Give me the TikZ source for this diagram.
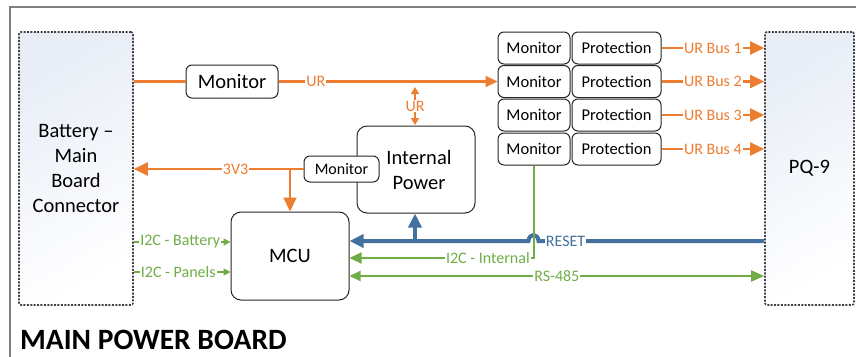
\documentclass[tikz,border=0pt]{standalone}
\usepackage{fontspec}
\setmainfont{Carlito}
\usetikzlibrary{arrows.meta}
\definecolor{orng}{HTML}{ED7D31}
\definecolor{grn}{HTML}{70AD47}
\definecolor{blu}{HTML}{41719C}
\definecolor{frm}{HTML}{808080}
\definecolor{conntop}{HTML}{E8EDF6}
\tikzset{
  rbox/.style={draw=black!85, line width=1pt, rounded corners=6pt, fill=white, inner sep=0pt},
  conbox/.style={draw=black!75, line width=1.6pt, dash pattern=on 2pt off 1.4pt, rounded corners=2pt,
     top color=conntop, bottom color=white, shading angle=30, inner sep=0pt, align=center,
     font=\fontsize{20.5}{25}\selectfont},
  lbl/.style={fill=white, inner sep=1pt, font=\fontsize{16}{18}\selectfont},
  olbl/.style={lbl, text=orng},
  glbl/.style={lbl, text=grn},
  blbl/.style={lbl, text=blu},
  oline/.style={draw=orng, line width=2.2pt},
  gline/.style={draw=grn, line width=2pt},
  bline/.style={draw=blu, line width=4pt},
  bigtip/.style={-{Triangle[length=14pt,width=13pt]}},
  midtip/.style={-{Triangle[length=12pt,width=11pt]}},
  smalltip/.style={-{Triangle[length=7pt,width=7pt]}},
  mfont/.style={font=\fontsize{20.5}{25}\selectfont},
  sfont/.style={font=\fontsize{16.5}{19}\selectfont},
}
\begin{document}
\begin{tikzpicture}[x=1pt,y=-1pt]
\useasboundingbox (0,0) rectangle (856,356);
\clip (0,0) rectangle (856,356);
% frame
\draw[frm, line width=1.6pt] (10,370) -- (10,7) -- (870,7);

% connectors
\node[conbox, minimum width=114pt, minimum height=273pt] (bat) at (76,168.5) {Battery --\\Main\\Board\\Connector};
\node[conbox, minimum width=89pt, minimum height=273pt] (pq) at (809.5,168.5) {PQ-9};

% top monitor
\node[rbox, mfont, minimum width=92pt, minimum height=33pt] (tm) at (232,81.5) {Monitor};

% monitor / protection stack
\foreach \i/\y in {1/48,2/81.5,3/115,4/149}{
  \node[rbox, sfont, minimum width=72pt, minimum height=32pt] (m\i) at (534,\y) {Monitor};
  \node[rbox, sfont, minimum width=89pt, minimum height=32pt] (p\i) at (616.5,\y) {Protection};
}

% internal power and its monitor
\node[rbox, mfont, align=center, minimum width=118pt, minimum height=87pt, rounded corners=10pt] (ip) at (416,169.5) {};
\node[mfont, align=center, anchor=center] (iptxt) at (419,169.5) {Internal\\Power};
\node[rbox, font=\fontsize{16}{18}\selectfont, minimum width=75pt, minimum height=26pt] (sm) at (341.5,169) {Monitor};

% MCU
\node[rbox, mfont, minimum width=118pt, minimum height=88pt, rounded corners=10pt] (mcu) at (290,256) {MCU};

% coordinates
\coordinate (urtop) at (415,87);
\coordinate (urbot) at (415,125);
\coordinate (vbranch) at (290,169);
\coordinate (bbranch) at (415,241);
\coordinate (gcorner) at (534,258);
\coordinate (hopR) at (538.5,241);
\coordinate (hopL) at (528.5,241);

% orange UR line
\draw[oline] (bat.east |- tm.west) -- (tm.west);
\draw[oline, midtip] (tm.east) -- node[olbl, pos=0.17]{UR} (m2.west);
\draw[oline, line width=1.6pt, {Triangle[length=7pt,width=8pt]}-{Triangle[length=7pt,width=8pt]}] (urtop) -- node[olbl]{UR} (urbot);

% UR buses
\foreach \i in {1,2,3,4}{
  \draw[oline, bigtip] (p\i.east) -- node[olbl, pos=0.5]{UR Bus \i} (pq.west |- p\i.east);
}

% 3V3
\draw[oline, bigtip] (sm.west) -- node[olbl, pos=0.4]{3V3} (bat.east |- sm.west);
\draw[oline, bigtip] (vbranch) -- (mcu.north -| vbranch);

% I2C battery / panels
\draw[gline, line width=1.6pt, smalltip] (bat.east |- 0,242) -- node[glbl, pos=0.48]{I2C - Battery} (mcu.west |- 0,242);
\draw[gline, line width=1.6pt, smalltip] (bat.east |- 0,272) -- node[glbl, pos=0.46]{I2C - Panels} (mcu.west |- 0,272);

% RESET
\draw[bline, {Triangle[length=14pt,width=13pt]}-] (mcu.east |- bbranch) -- (hopL) .. controls (529,233) and (538,233) .. (hopR) -- node[blbl, pos=0.12]{RESET} (pq.west |- bbranch);
\draw[bline, -{Triangle[length=14pt,width=13pt]}] (bbranch) -- (ip.south -| bbranch);

% I2C internal
\draw[gline, midtip] (m4.south) -- (gcorner) -- node[glbl, pos=0.25]{I2C - Internal} (mcu.east |- gcorner);

% RS-485
\draw[gline, {Triangle[length=11pt,width=10pt]}-{Triangle[length=13pt,width=11pt]}] (mcu.east |- 0,276) -- node[glbl, pos=0.5]{RS-485} (pq.west |- 0,276);

% title
\node[anchor=base west, font=\bfseries\fontsize{29.5}{31}\selectfont, inner sep=0pt] (title) at (20,349) {MAIN POWER BOARD};
\end{tikzpicture}
\end{document}
